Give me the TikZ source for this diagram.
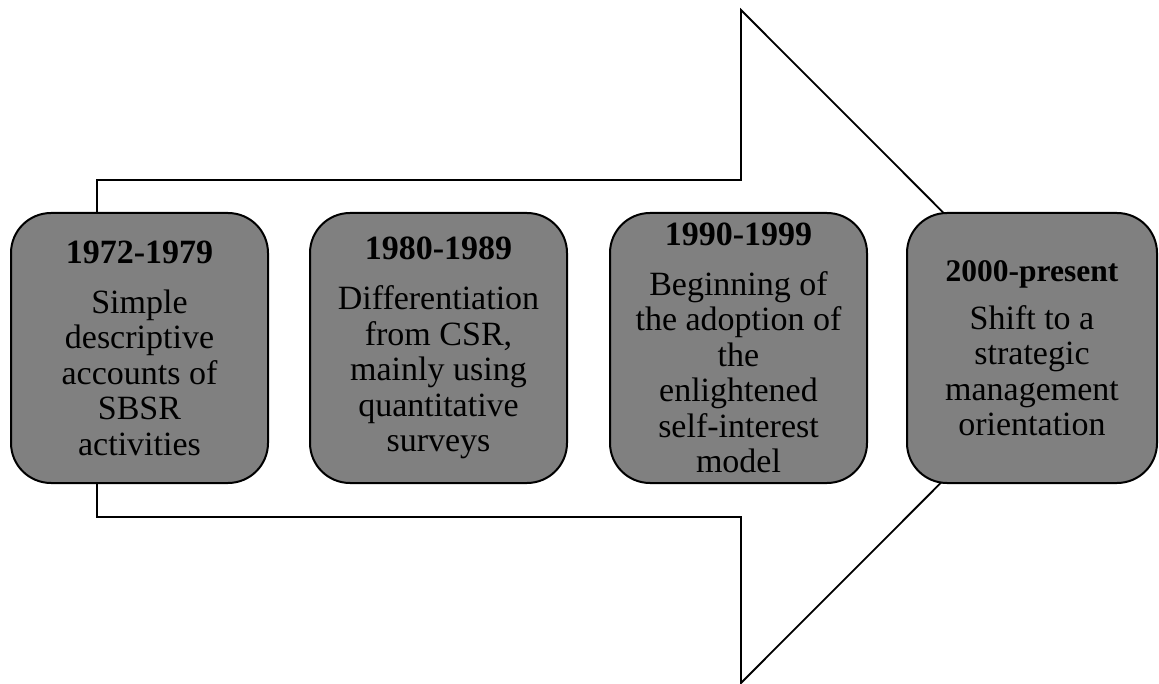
\documentclass[tikz,border=0pt]{standalone}
\usepackage{fontspec}
\setmainfont{Liberation Serif}
\begin{document}
\begin{tikzpicture}[x=1pt,y=-1pt,
  stage/.style={draw=black, line width=2pt, fill=boxgray, rounded corners=40pt,
    minimum width=257pt, minimum height=270pt, inner sep=0pt, align=center,
    font=\fontsize{34}{35.5}\selectfont},
  bigarrow/.style={draw=black, line width=1.8pt, fill=white, line join=miter}]
\definecolor{boxgray}{HTML}{808080}
\useasboundingbox (0,0) rectangle (1159,684);
\coordinate (s1) at (97,180);
\coordinate (s2) at (741,180);
\coordinate (h1) at (741,10);
\coordinate (tip) at (1077,346.5);
\coordinate (h2) at (741,683);
\coordinate (s3) at (741,517);
\coordinate (s4) at (97,517);
\draw[bigarrow] (s1) -- (s2) -- (h1) -- (tip) -- (h2) -- (s3) -- (s4) -- cycle;
\node[stage] (b1) at (139.5,348) {\textbf{1972-1979}\\[14.5pt]Simple\\descriptive\\accounts of\\SBSR\\activities};
\node[stage] (b2) at (438.5,348) {\textbf{1980-1989}\\[14.5pt]Differentiation\\from CSR,\\mainly using\\quantitative\\surveys};
\node[stage] (b3) at (738.5,348) {\textbf{1990-1999}\\[14.5pt]Beginning of\\the adoption of\\the\\enlightened\\self-interest\\model};
\node[stage, minimum width=250pt] (b4) at (1032,348) {{\fontsize{31.5}{35.5}\selectfont\textbf{2000-present}}\\[12.5pt]Shift to a\\strategic\\management\\orientation};
\end{tikzpicture}
\end{document}
